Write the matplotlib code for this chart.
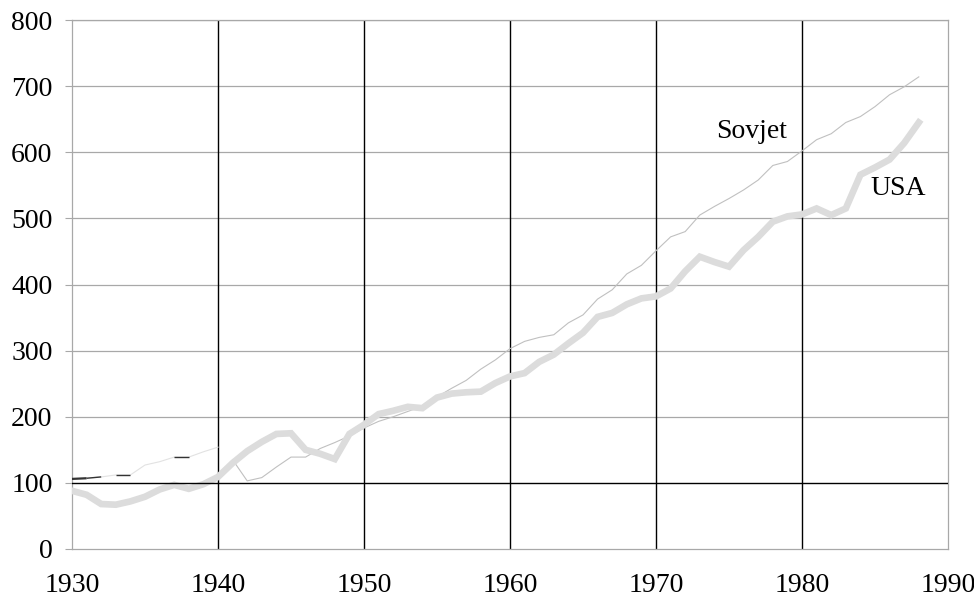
import matplotlib
matplotlib.use("Agg")
import matplotlib.pyplot as plt
import numpy as np

years = list(range(1930, 1989))

usa = [88, 82, 68, 67, 72, 79, 90, 97, 91, 98,
       109, 130, 148, 162, 174, 175, 150, 144, 136, 174,
       188, 204, 209, 215, 213, 229, 235, 237, 238, 251,
       261, 266, 283, 294, 311, 327, 351, 357, 370, 379,
       382, 394, 420, 442, 434, 427, 452, 472, 495, 503,
       506, 515, 505, 515, 566, 577, 589, 614, 645]

sovjet = [106, 107, 109, 112, 112, 127, 132, 139, 139, 147,
          154, 135, 103, 108, 124, 139, 139, 152, 161, 171,
          183, 193, 200, 208, 216, 230, 243, 255, 272, 286,
          303, 314, 320, 324, 342, 354, 378, 392, 416, 429,
          451, 472, 480, 505, 518, 530, 543, 558, 580, 586,
          602, 619, 628, 645, 654, 669, 687, 699, 714]

# early segments that render dark in the original (start years)
dark_starts = [1930, 1931, 1933, 1937]

yticks = [0, 100, 200, 300, 400, 500, 600, 700, 800]
xticks = [1930, 1940, 1950, 1960, 1970, 1980, 1990]

plt.rcParams['font.family'] = ['Liberation Serif', 'DejaVu Serif']

fig = plt.figure(figsize=(9.74, 6.0), dpi=100)
ax = fig.add_axes([72/974, 51/600, 876/974, 529/600])

ax.set_xlim(1930, 1990)
ax.set_ylim(0, 800)

grid_c = '#a8a8a8'
for v in yticks[1:]:
    if v == 100:
        continue
    ax.axhline(v, color=grid_c, lw=0.9, zorder=1)
for xv in xticks[1:-1]:
    ax.axvline(xv, color='black', lw=1.0, zorder=1)

yrs = np.array(years)
sv = np.array(sovjet, dtype=float)
us = np.array(usa, dtype=float)

# Sovjet line: pre-war part very light, later part light gray
m1 = yrs <= 1940
ax.plot(yrs[m1], sv[m1], color='#e2e2e2', lw=0.8, zorder=2)
m2 = yrs >= 1941
ax.plot(yrs[m2], sv[m2], color='#c0c0c0', lw=0.8, zorder=2)
for s in dark_starts:
    i = years.index(s)
    ax.plot(yrs[i:i+2], sv[i:i+2], color='#333333',
            lw=1.6 if s == 1930 else 1.0, zorder=3, solid_capstyle='butt')

ax.plot(yrs, us, color='#dcdcdc', lw=4.8, zorder=4, solid_joinstyle='miter')

ax.axhline(100, color='black', lw=1.0, zorder=5)

for side in ['left', 'bottom', 'top', 'right']:
    ax.spines[side].set_color(grid_c)
    ax.spines[side].set_linewidth(0.9)

ax.set_yticks(yticks)
ax.set_yticklabels([str(v) for v in yticks])
ax.set_xticks(xticks)
ax.set_xticklabels([str(v) for v in xticks])
ax.tick_params(axis='y', length=5, color=grid_c, labelsize=20, pad=9)
ax.tick_params(axis='x', length=0, labelsize=20, pad=17.5)

ax.text(1974.1, 622, 'Sovjet', fontsize=20, ha='left', va='baseline', zorder=6)
ax.text(1984.7, 536, 'USA', fontsize=20, ha='left', va='baseline', zorder=6)

fig.savefig('out.png', dpi=100)
